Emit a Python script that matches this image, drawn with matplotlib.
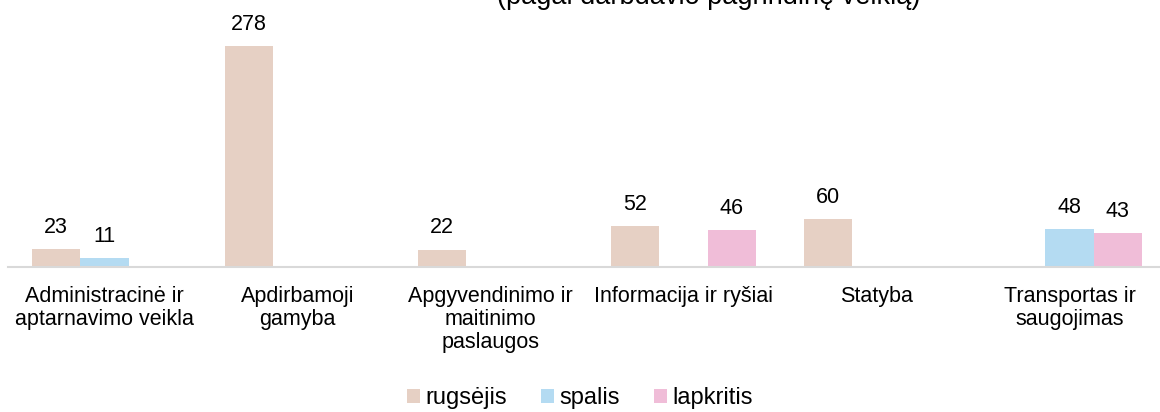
import numpy as np
import matplotlib
matplotlib.use("Agg")
import matplotlib.pyplot as plt
from matplotlib.patches import Patch

categories = ["Administracinė ir\naptarnavimo veikla", "Apdirbamoji\ngamyba",
              "Apgyvendinimo ir\nmaitinimo\npaslaugos", "Informacija ir ryšiai",
              "Statyba", "Transportas ir\nsaugojimas"]
series_names = ["rugsėjis", "spalis", "lapkritis"]
rugsejis = [23, 278, 22, 52, 60, np.nan]
spalis = [11, np.nan, np.nan, np.nan, np.nan, 48]
lapkritis = [np.nan, np.nan, np.nan, 46, np.nan, 43]
colors = ["#E6D0C4", "#B4DBF2", "#F0BDD8"]
subtitle = "(pagal darbdavio pagrindinę veiklą)"

plt.rcParams['font.family'] = ['Liberation Sans', 'DejaVu Sans']
FS = 15.5

fig = plt.figure(figsize=(11.6, 4.12), dpi=100)
ax = fig.add_axes([8/1160, 145/412, 6*193/1160, 238.5/412])

x = np.arange(len(categories))
w = 0.25
for i, (vals, col) in enumerate(zip([rugsejis, spalis, lapkritis], colors)):
    pos = x + (i - 1) * w
    vals = np.array(vals, dtype=float)
    ax.bar(pos, vals, width=w, color=col, edgecolor='none')
    for p, v in zip(pos, vals):
        if not np.isnan(v):
            ax.annotate(f"{int(v)}", (p, v), xytext=(0, 8), textcoords='offset points',
                        ha='center', va='bottom', fontsize=FS, color='#000000')

ax.set_xlim(-0.5, len(categories) - 0.5)
ax.set_ylim(0, 300)
ax.set_xticks(x)
ax.set_xticklabels(categories, fontsize=FS, linespacing=1.1, multialignment='center')
ax.tick_params(axis='x', length=0, pad=14)
ax.set_yticks([])
for s in ['top', 'right', 'left']:
    ax.spines[s].set_visible(False)
ax.spines['bottom'].set_color('#D9D9D9')
ax.spines['bottom'].set_linewidth(1.5)

fig.text(709/1160, 1 - 4/412, subtitle, ha='center', va='baseline', fontsize=19.5)

handles = [Patch(facecolor=c, edgecolor='none') for c in colors]
fig.legend(handles, series_names, loc='center', bbox_to_anchor=(580/1160, 1 - 398/412),
           ncol=3, frameon=False, fontsize=17, handlelength=0.55, handleheight=0.55,
           handletextpad=0.22, columnspacing=1.44)

fig.savefig("out.png", dpi=100)
